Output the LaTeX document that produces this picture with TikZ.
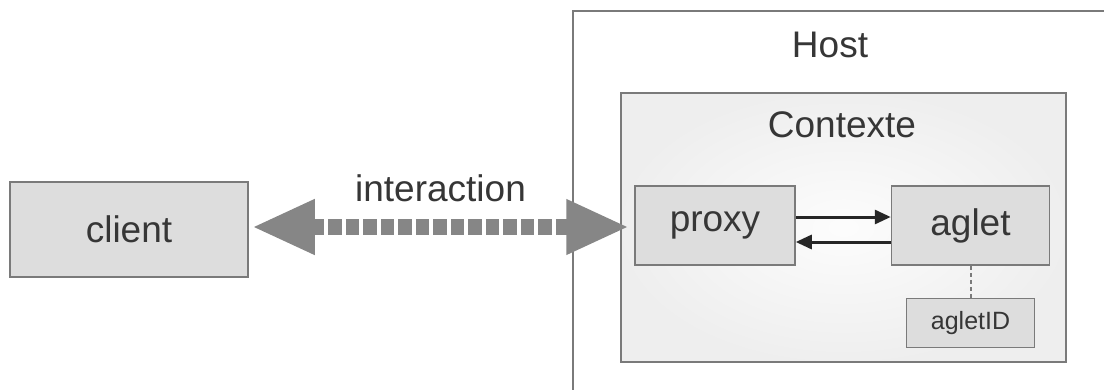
\documentclass[tikz,border=0pt]{standalone}
\usepackage{fontspec}
\setmainfont{Liberation Sans}
\usetikzlibrary{positioning,arrows.meta}
\definecolor{txtgray}{HTML}{363636}
\definecolor{edgegray}{HTML}{7A7A7A}
\definecolor{boxgray}{HTML}{DDDDDD}
\definecolor{arrowgray}{HTML}{868686}
\tikzstyle{block} = [draw=edgegray, line width=1.5pt, fill=boxgray, rectangle,
    text=txtgray, font=\fontsize{37}{44}\selectfont]
\tikzstyle{frame} = [draw=edgegray, rectangle, anchor=north west]
\tikzstyle{title} = [text=txtgray, font=\fontsize{37}{44}\selectfont]
\tikzstyle{msg} = [draw=black!85, line width=3pt,
    -{Triangle[length=16pt,width=14pt]}]

\begin{document}
\begin{tikzpicture}[x=1pt, y=-1pt]
    \useasboundingbox (0,0) rectangle (1104,389);
    % We start by placing the frames
    \node [frame, line width=2pt, fill=white, minimum width=560pt,
            minimum height=400pt] (host) at (572,10) {};
    \node [frame, line width=1.5pt, inner color=white!98!gray,
            outer color=gray!13, minimum width=445pt,
            minimum height=269pt] (ctx) at (620,92) {};
    \node [title] (hostlabel) at (830,45) {Host};
    \node [title] (ctxlabel) at (842,125) {Contexte};

    % Then the blocks
    \node [block, minimum width=238pt, minimum height=95pt] (client)
        at (129,229.5) {client};
    \node [block, minimum width=160pt, minimum height=79pt] (proxy)
        at (715,225.5) {proxy};
    \node [block, right=95pt of proxy, minimum width=158pt,
            minimum height=79pt] (aglet) {aglet};
    \node [block, below=32pt of aglet, minimum width=128pt,
            minimum height=49pt, line width=1.2pt,
            font=\fontsize{25}{30}\selectfont] (agletid) {agletID};

    % Once the nodes are placed, connecting them is easy.
    \draw [arrowgray, line width=16pt, dash pattern=on 13.5pt off 4pt,
        {Triangle[length=63pt,width=51pt]}-{Triangle[length=63pt,width=51pt]}]
        ([xshift=3pt,yshift=2.5pt]client.east)
        -- ([xshift=-5pt,yshift=2.5pt]client.east -| proxy.west)
        node [midway, above=14pt, title] (interlabel) {interaction};
    \draw [msg] ([yshift=8.5pt]proxy.east) -- ([yshift=8.5pt]proxy.east -| aglet.west);
    \draw [msg] ([yshift=-16.5pt]aglet.west) -- ([yshift=-16.5pt]aglet.west -| proxy.east);
    \draw [edgegray, line width=2pt, dash pattern=on 4pt off 3pt]
        (aglet.south) -- (agletid.north);
\end{tikzpicture}
\end{document}
